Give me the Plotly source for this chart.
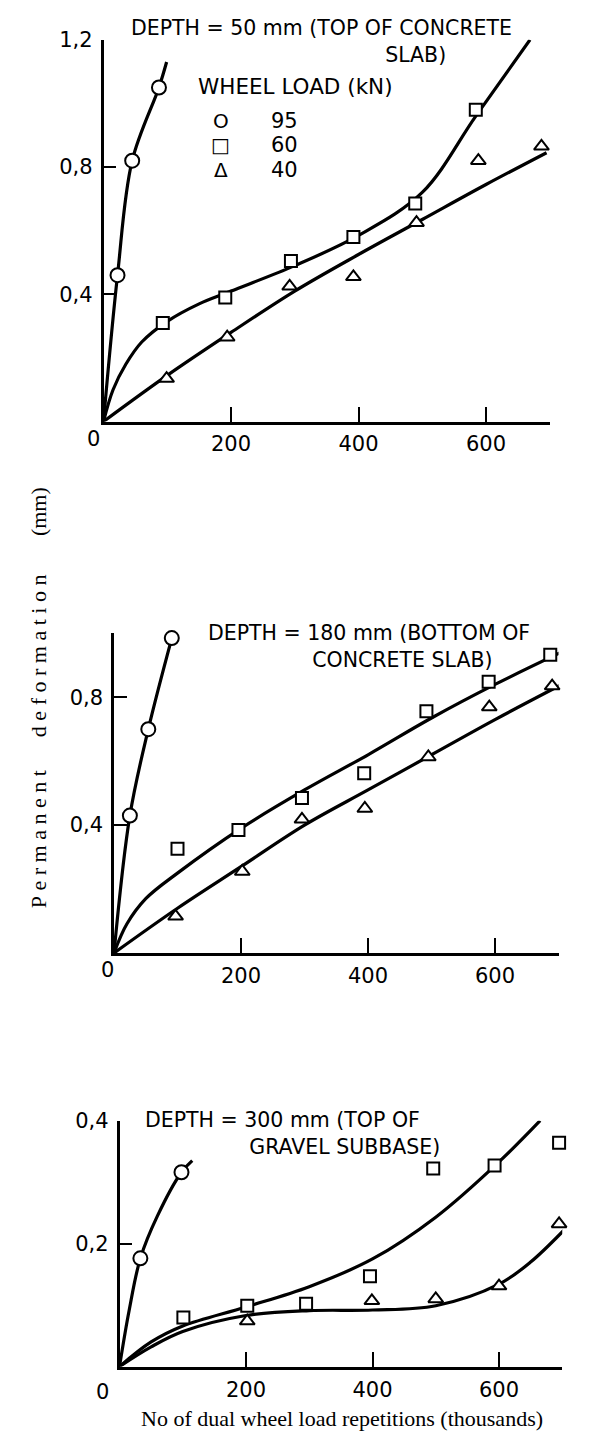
import plotly.graph_objects as go

# ---------------- data ----------------
# Panel 1: depth 50 mm (top of concrete slab)
p1_x95 = [22, 45, 87]
p1_y95 = [0.46, 0.82, 1.05]
p1_x60 = [93, 191, 294, 392, 489, 584, 669]
p1_y60 = [0.31, 0.39, 0.505, 0.58, 0.685, 0.98, 1.205]
p1_x40 = [99, 194, 292, 392, 491, 588, 687]
p1_y40 = [0.135, 0.265, 0.425, 0.455, 0.625, 0.82, 0.865]
# fitted curves panel 1
p1_c95_x = [0, 22, 45, 87, 99]
p1_c95_y = [0, 0.46, 0.82, 1.05, 1.13]
p1_c60_x = [0, 15, 35, 60, 100, 150, 200, 300, 400, 500, 584, 669]
p1_c60_y = [0, 0.10, 0.18, 0.25, 0.315, 0.37, 0.41, 0.49, 0.585, 0.72, 0.96, 1.2]
p1_c40_x = [0, 100, 200, 300, 400, 500, 600, 695]
p1_c40_y = [0, 0.145, 0.28, 0.41, 0.525, 0.635, 0.745, 0.845]

# Panel 2: depth 180 mm (bottom of concrete slab)
p2_x95 = [25, 54, 91]
p2_y95 = [0.43, 0.70, 0.985]
p2_x60 = [100, 196, 296, 394, 492, 590, 687]
p2_y60 = [0.326, 0.385, 0.485, 0.562, 0.756, 0.848, 0.933]
p2_x40 = [97, 202, 296, 395, 495, 591, 690]
p2_y40 = [0.115, 0.255, 0.418, 0.452, 0.613, 0.769, 0.835]
p2_c95_x = [0, 25, 54, 91]
p2_c95_y = [0, 0.43, 0.70, 0.985]
p2_c60_x = [0, 20, 50, 100, 200, 300, 400, 500, 600, 712]
p2_c60_y = [0, 0.09, 0.17, 0.25, 0.39, 0.51, 0.62, 0.735, 0.84, 0.948]
p2_c40_x = [0, 100, 200, 300, 400, 500, 600, 715]
p2_c40_y = [0, 0.14, 0.27, 0.40, 0.51, 0.62, 0.73, 0.85]

# Panel 3: depth 300 mm (top of gravel subbase)
p3_x95 = [33, 98]
p3_y95 = [0.176, 0.316]
p3_x60 = [101, 202, 295, 396, 496, 593, 695]
p3_y60 = [0.080, 0.099, 0.102, 0.147, 0.322, 0.327, 0.364]
p3_x40 = [202, 399, 500, 600, 695]
p3_y40 = [0.074, 0.107, 0.110, 0.131, 0.232]
p3_c95_x = [0, 15, 33, 60, 98, 115]
p3_c95_y = [0, 0.09, 0.176, 0.245, 0.316, 0.335]
p3_c60_x = [0, 50, 100, 200, 300, 400, 500, 600, 665]
p3_c60_y = [0, 0.04, 0.066, 0.097, 0.13, 0.175, 0.243, 0.333, 0.40]
p3_c40_x = [0, 50, 100, 200, 300, 400, 500, 600, 650, 715]
p3_c40_y = [0, 0.032, 0.057, 0.083, 0.091, 0.092, 0.099, 0.134, 0.17, 0.235]

x_ticks = [200, 400, 600]
x_ticktext = ["200", "400", "600"]
p1_yticks = [0.4, 0.8, 1.2]
p1_yticktext = ["0,4", "0,8", "1,2"]
p2_yticks = [0.4, 0.8]
p2_yticktext = ["0,4", "0,8"]
p3_yticks = [0.2, 0.4]
p3_yticktext = ["0,2", "0,4"]

legend_loads = ["95", "60", "40"]

# ---------------- layout helpers ----------------
W, H = 598, 1433
def fx(p):
    return p / W
def fy(p):
    return 1 - p / H

LABEL_FONT = dict(family="DejaVu Sans", size=21, color="black")
SERIF = "Liberation Serif"
NB = "\u00a0"

fig = go.Figure()

panels = [
    ("x", "y", p1_c95_x, p1_c95_y, p1_c60_x, p1_c60_y, p1_c40_x, p1_c40_y,
     p1_x95, p1_y95, p1_x60, p1_y60, p1_x40, p1_y40),
    ("x2", "y2", p2_c95_x, p2_c95_y, p2_c60_x, p2_c60_y, p2_c40_x, p2_c40_y,
     p2_x95, p2_y95, p2_x60, p2_y60, p2_x40, p2_y40),
    ("x3", "y3", p3_c95_x, p3_c95_y, p3_c60_x, p3_c60_y, p3_c40_x, p3_c40_y,
     p3_x95, p3_y95, p3_x60, p3_y60, p3_x40, p3_y40),
]

for (xa, ya, c95x, c95y, c60x, c60y, c40x, c40y, mx95, my95, mx60, my60, mx40, my40) in panels:
    for cx, cy in [(c95x, c95y), (c60x, c60y), (c40x, c40y)]:
        fig.add_trace(go.Scatter(x=cx, y=cy, mode="lines", xaxis=xa, yaxis=ya,
                                 line=dict(color="black", width=3.2, shape="spline", smoothing=1.0),
                                 cliponaxis=False, showlegend=False, hoverinfo="skip"))
    for mx, my, sym, sz in [(mx95, my95, "circle", 14), (mx60, my60, "square", 12),
                            (mx40, my40, "triangle-up", 13)]:
        fig.add_trace(go.Scatter(x=mx, y=my, mode="markers", xaxis=xa, yaxis=ya,
                                 marker=dict(symbol=sym, size=sz, color="white",
                                             line=dict(color="black", width=2)),
                                 cliponaxis=False, showlegend=False))

def xaxis_cfg(dom, anchor):
    return dict(domain=dom, anchor=anchor, range=[0, 700], showline=True, linecolor="black",
                linewidth=2.5, ticks="inside", ticklen=15, tickwidth=2, tickcolor="black",
                tickvals=x_ticks, ticktext=x_ticktext, tickfont=LABEL_FONT,
                showgrid=False, zeroline=False, ticklabelstandoff=2)

def yaxis_cfg(dom, anchor, rng, tv, tt):
    return dict(domain=dom, anchor=anchor, range=rng, showline=True, linecolor="black",
                linewidth=2.5, ticks="inside", ticklen=13, tickwidth=2, tickcolor="black",
                tickvals=tv, ticktext=tt, tickfont=LABEL_FONT,
                showgrid=False, zeroline=False, ticklabelstandoff=4)

fig.update_layout(
    width=W, height=H, margin=dict(l=0, r=0, t=0, b=0),
    paper_bgcolor="white", plot_bgcolor="white", showlegend=False,
    xaxis=xaxis_cfg([fx(103.5), fx(549.75)], "y"),
    yaxis=yaxis_cfg([fy(413), fy(28)], "x", [0, 1.2], p1_yticks, p1_yticktext),
    xaxis2=xaxis_cfg([fx(114), fx(558.5)], "y2"),
    yaxis2=yaxis_cfg([fy(949), fy(626.5)], "x2", [0, 1.0], p2_yticks, p2_yticktext),
    xaxis3=xaxis_cfg([fx(119.5), fx(562.25)], "y3"),
    yaxis3=yaxis_cfg([fy(1366), fy(1118)], "x3", [0, 0.4], p3_yticks, p3_yticktext),
)

ann = []
def text(t, x, y, xanchor="left", size=20, family="DejaVu Sans", angle=0, align="left"):
    ann.append(dict(text=t, x=fx(x), y=fy(y), xref="paper", yref="paper",
                    xanchor=xanchor, yanchor="middle", showarrow=False, textangle=angle,
                    align=align,
                    font=dict(family=family, size=size, color="black")))

# panel titles (two-line blocks, second line indented)
text("DEPTH = 50 mm (TOP OF CONCRETE<br>" + NB * 39 + "SLAB)", 129, 30, size=20.5)
text("WHEEL LOAD (kN)", 196, 75, size=21.5)
text("DEPTH = 180 mm (BOTTOM OF<br>" + NB * 16 + "CONCRETE SLAB)", 206, 640, size=20.5)
text("DEPTH = 300 mm (TOP OF<br>" + NB * 16 + "GRAVEL SUBBASE)", 143, 1131, size=20.5)

# legend (symbol glyphs and load values)
legend_syms = ["O", "\u25A1", "\u0394"]
for sym, lab, yy in zip(legend_syms, legend_loads, [110, 134, 159]):
    text(sym, 221, yy, xanchor="center", size=20)
    text(lab, 269, yy, size=21)

# origin zeros
text("0", 93, 431, xanchor="center", size=21)
text("0", 107, 966, xanchor="center", size=21)
text("0", 102, 1392, xanchor="center", size=21)

# axis titles
ytitle = NB.join("Permanent") + NB * 6 + NB.join("deformation") + NB * 7 + "(mm)"
text(ytitle, 38, 692, xanchor="center", size=22, family=SERIF, angle=-90)
text("No of dual wheel load repetitions (thousands)", 342, 1418, xanchor="center",
     size=22, family=SERIF)

fig.update_layout(annotations=ann)
fig.write_html("out.html")
